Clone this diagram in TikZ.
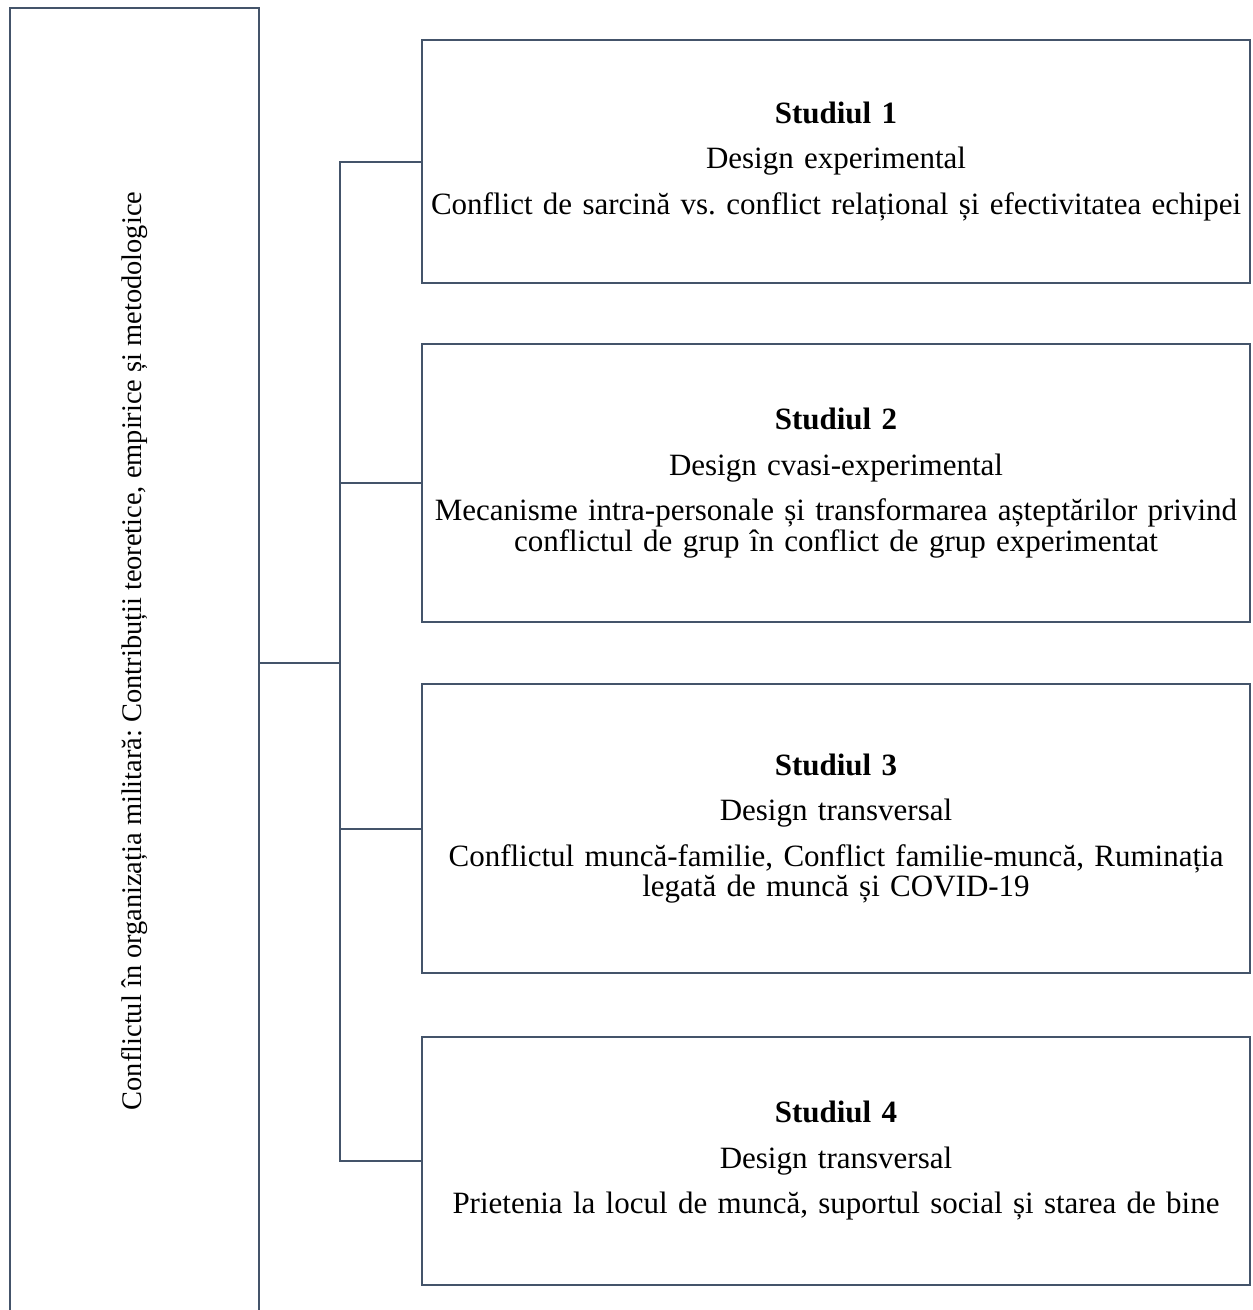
\documentclass[tikz,border=0pt]{standalone}
\usepackage{fontspec}
\setmainfont{Liberation Serif}
\frenchspacing
\definecolor{linec}{HTML}{44546A}
\tikzset{
  x=1pt, y=1pt,
  conn/.style={draw=linec, line width=2pt, line join=miter},
  studybox/.style={draw=linec, line width=2pt, minimum width=828pt, inner sep=0pt,
     align=center, text width=826pt, font=\fontsize{31}{30.5}\selectfont},
  leftbox/.style={draw=linec, line width=2pt, minimum width=249pt, minimum height=1330pt, inner sep=0pt},
  lefttext/.style={rotate=90, font=\fontsize{28.4}{32}\selectfont, inner sep=0pt}
}
\newcommand{\pgap}{\\[15pt]}
\begin{document}
\begin{tikzpicture}
\useasboundingbox (0,0) rectangle (1253,-1310);
\clip (0,0) rectangle (1253,-1310);
\fill[white] (0,0) rectangle (1253,-1310);

\node[leftbox] (lbox) at (134.5,-673) {};
\node[lefttext] (ltext) at (134.5,-651) {Conflictul în organizația militară: Contribuții teoretice, empirice și metodologice};

\node[studybox, minimum height=243pt] (s1) at (836,-161.5)
  {\textbf{Studiul 1}\pgap Design experimental\pgap Conflict de sarcină vs. conflict relațional și efectivitatea echipei};
\node[studybox, minimum height=278pt] (s2) at (836,-483)
  {\textbf{Studiul 2}\pgap Design cvasi-experimental\pgap Mecanisme intra-personale și transformarea așteptărilor privind\\ conflictul de grup în conflict de grup experimentat};
\node[studybox, minimum height=289pt] (s3) at (836,-828.5)
  {\textbf{Studiul 3}\pgap Design transversal\pgap Conflictul muncă-familie, Conflict familie-muncă, Ruminația\\ legată de muncă și COVID-19};
\node[studybox, minimum height=248pt] (s4) at (836,-1161)
  {\textbf{Studiul 4}\pgap Design transversal\pgap Prietenia la locul de muncă, suportul social și starea de bine};

\coordinate (hub) at (340,-663);
\draw[conn] (lbox.east |- hub) -- (hub);
\draw[conn] (s1.west) -- (s1.west -| hub) -- (s4.west -| hub) -- (s4.west);
\draw[conn] (s2.west -| hub) -- (s2.west);
\draw[conn] (s3.west -| hub) -- (s3.west);
\end{tikzpicture}
\end{document}
